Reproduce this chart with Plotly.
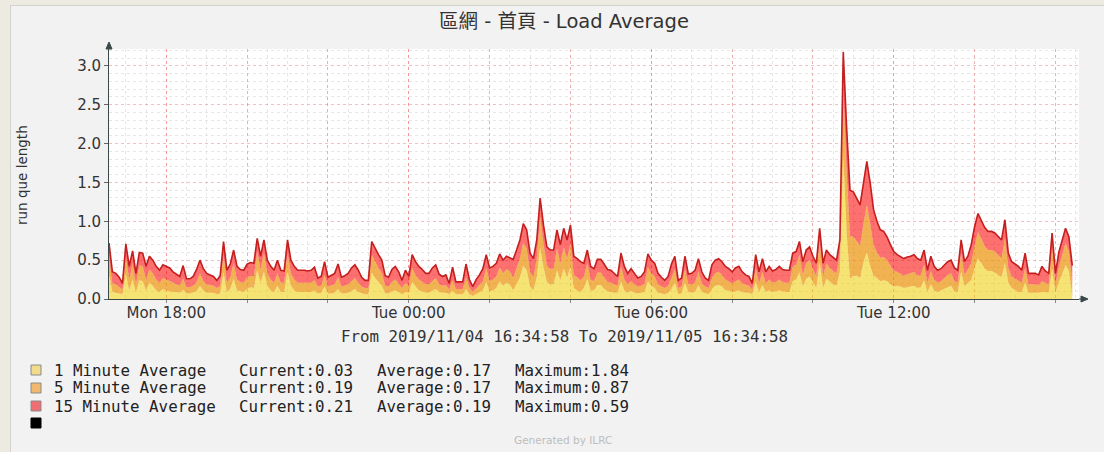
import plotly.graph_objects as go
import pandas as pd

# ---------------- data ----------------
START = "2019-11-04 16:35:00"
STEP = "5min"
X_RANGE = ["2019-11-04 16:34:58", "2019-11-05 16:34:58"]
X_TICK0 = "2019-11-04 18:00:00"

ONE_MIN = [
    .32, .09, .08, .07, .06, .32, .11, .25, .08, .24,
    .23, .11, .21, .17, .11, .09, .13, .11, .10, .09,
    .09, .08, .12, .07, .07, .08, .10, .17, .11, .08,
    .08, .08, .06, .07, .34, .09, .13, .26, .11, .10,
    .09, .13, .15, .14, .37, .21, .35, .17, .11, .09,
    .17, .09, .09, .35, .17, .11, .09, .09, .09, .09,
    .09, .11, .07, .08, .16, .07, .07, .08, .13, .07,
    .07, .08, .10, .13, .09, .07, .06, .06, .34, .27,
    .22, .17, .07, .07, .10, .11, .09, .06, .09, .08,
    .22, .16, .11, .10, .08, .08, .10, .13, .09, .08,
    .08, .06, .11, .06, .06, .06, .13, .06, .04, .06,
    .08, .11, .22, .10, .11, .14, .23, .17, .21, .19,
    .11, .19, .28, .43, .37, .16, .11, .28, .66, .41,
    .22, .19, .19, .37, .24, .39, .28, .41, .14, .11,
    .09, .14, .26, .11, .11, .18, .18, .13, .10, .09,
    .08, .08, .23, .11, .08, .11, .08, .07, .08, .09,
    .23, .17, .14, .08, .07, .06, .08, .13, .21, .06,
    .07, .21, .09, .08, .09, .18, .09, .07, .06, .13,
    .17, .18, .16, .11, .11, .09, .10, .11, .09, .08,
    .08, .06, .22, .09, .18, .09, .11, .09, .10, .11,
    .10, .09, .09, .23, .25, .34, .16, .26, .29, .21,
    .14, .46, .14, .26, .22, .19, .17, .35, 1.84, .85,
    .26, .30, .30, .27, .47, .60, .42, .30, .27, .23,
    .24, .23, .19, .16, .17, .16, .14, .15, .16, .17,
    .14, .15, .24, .09, .19, .11, .09, .11, .13, .16,
    .17, .10, .09, .35, .16, .21, .24, .40, .52, .46,
    .39, .36, .36, .34, .31, .28, .46, .21, .14, .11,
    .09, .09, .21, .08, .08, .08, .08, .09, .09, .08,
    .39, .08, .22, .32, .44, .36, .03,
]

FIVE_MIN = [
    .23, .11, .11, .09, .06, .22, .14, .20, .11, .19,
    .19, .14, .17, .16, .14, .12, .14, .14, .13, .11,
    .10, .09, .14, .08, .08, .09, .12, .16, .12, .11,
    .10, .09, .08, .10, .23, .12, .15, .20, .14, .12,
    .12, .15, .15, .15, .24, .17, .24, .16, .14, .12,
    .16, .12, .12, .24, .16, .14, .12, .12, .12, .12,
    .12, .13, .09, .09, .15, .09, .10, .11, .15, .09,
    .10, .11, .13, .14, .12, .09, .08, .08, .23, .21,
    .18, .16, .10, .09, .12, .14, .11, .08, .12, .09,
    .18, .15, .14, .12, .11, .11, .13, .14, .10, .09,
    .10, .06, .13, .07, .07, .07, .15, .08, .05, .08,
    .10, .12, .18, .13, .14, .15, .18, .16, .17, .17,
    .16, .20, .24, .30, .28, .19, .17, .24, .40, .30,
    .21, .20, .20, .28, .22, .28, .24, .30, .17, .17,
    .15, .15, .20, .14, .12, .16, .16, .15, .12, .12,
    .11, .09, .19, .14, .11, .12, .11, .09, .09, .11,
    .18, .16, .15, .11, .09, .08, .09, .15, .17, .08,
    .09, .17, .10, .11, .12, .17, .11, .09, .08, .14,
    .16, .17, .15, .14, .12, .11, .13, .14, .11, .10,
    .09, .06, .18, .11, .17, .11, .14, .12, .12, .14,
    .12, .12, .12, .19, .19, .23, .15, .20, .21, .17,
    .15, .28, .15, .20, .18, .17, .16, .24, .87, .80,
    .55, .50, .45, .42, .50, .62, .55, .40, .33, .30,
    .30, .27, .24, .20, .18, .17, .16, .17, .17, .18,
    .16, .16, .20, .12, .17, .14, .12, .12, .14, .15,
    .16, .13, .12, .24, .15, .17, .22, .29, .34, .32,
    .29, .27, .27, .27, .25, .24, .32, .19, .15, .15,
    .14, .12, .19, .11, .11, .11, .10, .14, .12, .11,
    .27, .11, .19, .23, .28, .25, .19,
]

FIFTEEN_MIN = [
    .17, .15, .14, .12, .08, .17, .17, .17, .14, .17,
    .17, .17, .17, .17, .17, .16, .17, .17, .17, .15,
    .13, .12, .17, .11, .11, .12, .16, .17, .16, .14,
    .13, .12, .10, .13, .17, .16, .17, .17, .17, .16,
    .16, .17, .17, .17, .17, .17, .17, .17, .17, .16,
    .17, .16, .15, .17, .17, .17, .16, .16, .16, .15,
    .16, .17, .11, .12, .17, .12, .13, .14, .17, .12,
    .13, .14, .17, .17, .16, .12, .10, .10, .17, .17,
    .17, .17, .13, .12, .16, .17, .15, .10, .16, .12,
    .17, .17, .17, .16, .14, .14, .17, .17, .13, .12,
    .13, .08, .17, .09, .09, .09, .17, .11, .07, .11,
    .13, .16, .17, .17, .17, .17, .17, .17, .17, .17,
    .24, .24, .24, .24, .24, .24, .24, .24, .24, .24,
    .24, .24, .24, .24, .24, .24, .24, .24, .24, .24,
    .24, .17, .17, .17, .16, .17, .17, .17, .16, .16,
    .14, .12, .17, .17, .14, .16, .14, .11, .12, .15,
    .17, .17, .17, .14, .12, .10, .12, .17, .17, .10,
    .11, .17, .13, .14, .16, .17, .15, .11, .10, .17,
    .17, .17, .17, .17, .16, .15, .17, .17, .15, .13,
    .12, .08, .17, .15, .17, .15, .17, .15, .16, .17,
    .16, .16, .16, .17, .17, .17, .17, .17, .17, .17,
    .17, .17, .17, .17, .17, .17, .17, .17, .47, .55,
    .59, .58, .55, .52, .52, .55, .52, .45, .40, .36,
    .33, .30, .27, .25, .22, .22, .22, .22, .22, .22,
    .22, .19, .19, .16, .19, .17, .16, .16, .17, .17,
    .17, .17, .16, .17, .17, .17, .24, .24, .24, .24,
    .24, .24, .24, .24, .24, .24, .24, .19, .19, .19,
    .19, .16, .19, .14, .14, .14, .13, .19, .15, .14,
    .19, .14, .19, .19, .19, .19, .21,
]

SERIES_NAMES = ["1 Minute Average", "5 Minute Average", "15 Minute Average"]
CURRENT = ["0.03", "0.19", "0.21"]
AVERAGE = ["0.17", "0.17", "0.19"]
MAXIMUM = ["1.84", "0.87", "0.59"]

TITLE = "區網 - 首頁 - Load Average"
Y_TITLE = "run que length"
X_TITLE = "From 2019/11/04 16:34:58 To 2019/11/05 16:34:58"
FOOTER = "Generated by ILRC"

# ---------------- styles / layout geometry ----------------
W, H = 1104, 452
ML, MR, MT, MB = 109, 25, 49, 153
PW, PH = W - ML - MR, H - MT - MB
Y_MAX = 3.2175

FILLS = ["rgba(236,205,0,0.55)", "rgba(234,143,0,0.68)", "rgba(250,0,0,0.56)"]
SWATCH = ["#F0DC8C", "#F0B96E", "#F06E73"]
TOP_LINE = "#C41E1E"
RED_GRID = "rgba(235,110,110,0.45)"
GRAY_GRID = "#E6E6E6"
AXIS = "#3A4848"
TXT = "#333333"
SANS = "DejaVu Sans, Noto Sans CJK TC, sans-serif"
MONO = "DejaVu Sans Mono, Liberation Mono, monospace"


def px(x):
    return (x - ML) / PW


def py(y):
    return (H - MB - y) / PH


times = pd.date_range(START, periods=len(ONE_MIN), freq=STEP)

fig = go.Figure()
series = [ONE_MIN, FIVE_MIN, FIFTEEN_MIN]
for k, vals in enumerate(series):
    top = k == len(series) - 1
    fig.add_trace(go.Scatter(
        x=times, y=vals, name=SERIES_NAMES[k], stackgroup="load",
        mode="lines",
        line=dict(width=1.6 if top else 0, color=TOP_LINE if top else FILLS[k]),
        fillcolor=FILLS[k], showlegend=False, hoverinfo="x+y",
    ))

# dummy trace for the 2-hour major grid axis
fig.add_trace(go.Scatter(x=[X_RANGE[0]], y=[0], xaxis="x2", mode="markers",
                         marker=dict(opacity=0), showlegend=False, hoverinfo="skip"))

fig.update_layout(
    width=W, height=H,
    margin=dict(l=ML, r=MR, t=MT, b=MB, pad=0),
    paper_bgcolor="#F2F2F2", plot_bgcolor="#FFFFFF",
    showlegend=False,
    xaxis=dict(
        type="date", range=X_RANGE, tick0=X_TICK0, dtick=6 * 3600000,
        tickformat="%a %H:%M", showgrid=True, gridcolor=RED_GRID, griddash="dot",
        minor=dict(dtick=1800000, tick0=X_TICK0, showgrid=True,
                   gridcolor=GRAY_GRID, griddash="dot"),
        showline=True, linecolor=AXIS, linewidth=1, ticks="", zeroline=False,
        tickfont=dict(family=SANS, size=15, color=TXT), ticklabelstandoff=0,
    ),
    xaxis2=dict(
        type="date", range=X_RANGE, overlaying="x", anchor="y", side="bottom",
        tick0=X_TICK0, dtick=2 * 3600000, showgrid=True, gridcolor=RED_GRID,
        griddash="dot", showticklabels=False, ticks="outside", ticklen=3,
        tickcolor="#888888", showline=False, zeroline=False,
    ),
    yaxis=dict(
        range=[0, Y_MAX], tick0=0, dtick=0.5, tickformat=".1f",
        showgrid=True, gridcolor=RED_GRID, griddash="dot",
        minor=dict(dtick=0.1, showgrid=True, gridcolor=GRAY_GRID, griddash="dot"),
        showline=True, linecolor=AXIS, linewidth=1, ticks="outside", ticklen=4,
        tickcolor="#666666", zeroline=False,
        tickfont=dict(family=SANS, size=15, color=TXT),
    ),
)

shapes = [
    # outer beige frame
    dict(type="rect", xref="paper", yref="paper", x0=px(0), x1=px(10), y0=py(H), y1=py(0),
         fillcolor="#EDEAE2", line=dict(width=0)),
    dict(type="rect", xref="paper", yref="paper", x0=px(0), x1=px(W), y0=py(5), y1=py(0),
         fillcolor="#EDEAE2", line=dict(width=0)),
    dict(type="line", xref="paper", yref="paper", x0=px(10.5), x1=px(10.5), y0=py(H), y1=py(5),
         line=dict(color="#D2D2D2", width=1)),
    dict(type="line", xref="paper", yref="paper", x0=px(10), x1=px(W), y0=py(5.5), y1=py(5.5),
         line=dict(color="#D2D2D2", width=1)),
    # axis arrows
    dict(type="path", xref="paper", yref="paper",
         path=f"M {px(106)},{py(49)} L {px(112)},{py(49)} L {px(109)},{py(42)} Z",
         fillcolor=AXIS, line=dict(color=AXIS, width=1)),
    dict(type="line", xref="paper", yref="paper", x0=px(1079), x1=px(1082), y0=py(299), y1=py(299),
         line=dict(color=AXIS, width=1)),
    dict(type="path", xref="paper", yref="paper",
         path=f"M {px(1081)},{py(296)} L {px(1081)},{py(302)} L {px(1088)},{py(299)} Z",
         fillcolor=AXIS, line=dict(color=AXIS, width=1)),
]

annotations = [
    dict(text=TITLE, x=px(563.5), y=py(22), xref="paper", yref="paper", showarrow=False,
         xanchor="center", yanchor="middle", font=dict(family=SANS, size=19.5, color=TXT)),
    dict(text=Y_TITLE, x=px(22), y=py(175), xref="paper", yref="paper", showarrow=False,
         textangle=-90, xanchor="center", yanchor="middle",
         font=dict(family=SANS, size=13.5, color=TXT)),
    dict(text=X_TITLE, x=px(564), y=py(336), xref="paper", yref="paper", showarrow=False,
         xanchor="center", yanchor="middle", font=dict(family=MONO, size=15.8, color=TXT)),
    dict(text=FOOTER, x=px(563), y=py(440), xref="paper", yref="paper", showarrow=False,
         xanchor="center", yanchor="middle", font=dict(family=SANS, size=10.5, color="#BDBDBD")),
]

ROW_Y = [370, 388, 406]
COL_X = [52, 237, 375, 513]
for k in range(3):
    yc = ROW_Y[k]
    shapes.append(dict(type="rect", xref="paper", yref="paper",
                       x0=px(31), x1=px(41), y0=py(yc + 5), y1=py(yc - 5),
                       fillcolor=SWATCH[k], line=dict(color="#8A8A8A", width=1)))
    cells = [SERIES_NAMES[k], "Current:" + CURRENT[k], "Average:" + AVERAGE[k],
             "Maximum:" + MAXIMUM[k]]
    for cx, txt in zip(COL_X, cells):
        annotations.append(dict(text=txt, x=px(cx), y=py(yc), xref="paper", yref="paper",
                                showarrow=False, xanchor="left", yanchor="middle",
                                font=dict(family=MONO, size=15.8, color="#222222")))
shapes.append(dict(type="rect", xref="paper", yref="paper",
                   x0=px(31), x1=px(41), y0=py(428), y1=py(418),
                   fillcolor="#000000", line=dict(color="#000000", width=1)))

fig.update_layout(shapes=shapes, annotations=annotations)
fig.write_html("out.html", config={"displayModeBar": False},
               post_script="document.body.style.margin='0';document.body.style.padding='0';")
